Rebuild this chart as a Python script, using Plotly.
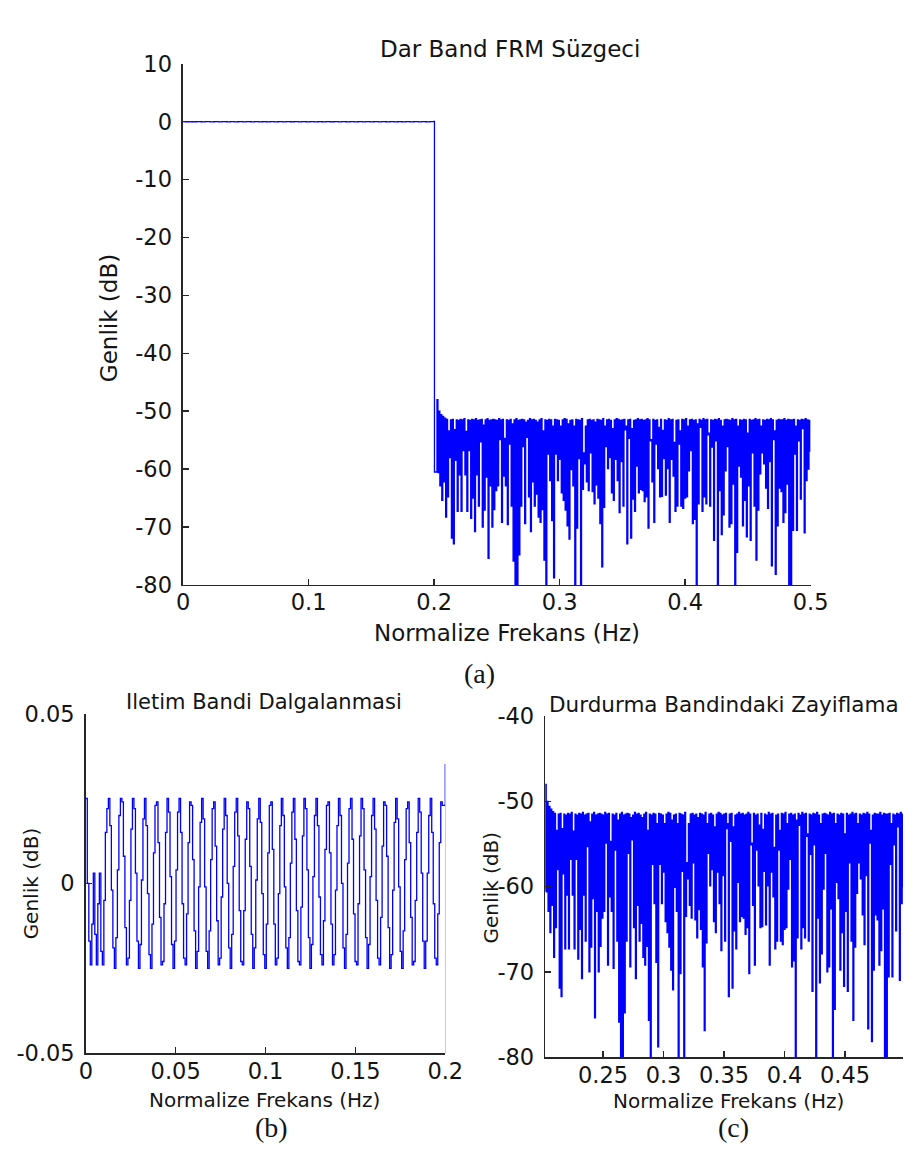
import numpy as np
import plotly.graph_objects as go

# ---------------- data ----------------
# Passband magnitude (dB), uniformly spaced from 0 to 0.2 normalized frequency
pass_db = [
    0.025, 0.000, -0.017, -0.024, -0.012, 0.003, -0.015, -0.024, -0.006, 0.003, -0.020,
    -0.024, -0.005, 0.015, 0.022, 0.025, 0.017, -0.002, -0.019, -0.025, -0.016, 0.004,
    0.020, 0.025, 0.024, 0.008, -0.013, -0.024, -0.022, -0.005, 0.016, 0.025, 0.022,
    0.003, -0.017, -0.025, -0.018, 0.001, 0.019, 0.025, 0.017, -0.003, -0.021, -0.025,
    -0.012, 0.009, 0.023, 0.024, 0.012, -0.010, -0.024, -0.023, -0.006, 0.015, 0.025,
    0.021, 0.002, -0.018, -0.025, -0.017, 0.004, 0.021, 0.025, 0.015, -0.006, -0.022,
    -0.024, -0.009, 0.012, 0.024, 0.023, 0.007, -0.014, -0.025, -0.020, -0.001, 0.018,
    0.025, 0.019, -0.001, -0.020, -0.025, -0.014, 0.007, 0.022, 0.024, 0.011, -0.011,
    -0.024, -0.022, -0.004, 0.016, 0.025, 0.020, 0.000, -0.019, -0.025, -0.015, 0.005,
    0.021, 0.025, 0.014, -0.008, -0.023, -0.024, -0.008, 0.013, 0.024, 0.022, 0.005,
    -0.015, -0.025, -0.019, 0.001, 0.019, 0.025, 0.018, -0.003, -0.021, -0.025, -0.012,
    0.009, 0.023, 0.024, 0.010, -0.012, -0.024, -0.022, -0.003, 0.017, 0.025, 0.020,
    -0.001, -0.019, -0.025, -0.016, 0.006, 0.021, 0.025, 0.013, -0.008, -0.023, -0.024,
    -0.007, 0.014, 0.025, 0.022, 0.004, -0.016, -0.025, -0.018, 0.002, 0.020, 0.025,
    0.017, -0.004, -0.021, -0.024, -0.011, 0.010, 0.023, 0.024, 0.009, -0.012, -0.024,
    -0.021, -0.002, 0.017, 0.025, 0.020, 0.000, -0.019, -0.025, -0.015, 0.006, 0.022,
    0.025, 0.013, -0.009, -0.023, -0.024, -0.006, 0.014, 0.025, 0.022, 0.004, -0.016,
    -0.025, -0.018, 0.002, 0.020, 0.025, 0.016, -0.005, -0.022, -0.024, -0.010, 0.011,
    0.024, 0.023, 0.008, -0.013, -0.025, -0.021, -0.002, 0.018, 0.025, 0.019, -0.001,
    -0.020, -0.025, -0.014, 0.007, 0.022, 0.024, 0.012, -0.010, -0.024, -0.023, -0.005,
    0.015, 0.025, 0.021, 0.003, -0.017, -0.025, -0.017, 0.003, 0.020, 0.025, 0.015,
    -0.006, -0.022, -0.024, -0.009, 0.012, 0.024, 0.023, 0.023, 0.035,
]
pass_f_start, pass_f_end = 0.0, 0.2

# Transition sample right after the band edge
trans_f = [0.2003]
trans_db = [-60.5]

# Stopband: upper (peak) and lower (trough) samples, alternating, from 0.2023 to 0.4995
stop_f_start, stop_f_end = 0.2023, 0.4995
stop_peaks = [
    -48.0, -50.0, -50.6, -50.9, -51.2, -51.4, -53.4, -51.5, -51.4, -53.2,
    -51.5, -51.6, -51.4, -51.5, -51.3, -53.5, -51.5, -51.6, -51.4, -51.5,
    -51.3, -51.6, -51.5, -51.4, -52.4, -51.5, -51.3, -51.6, -51.5, -51.4,
    -51.5, -51.6, -51.3, -51.5, -51.4, -54.7, -51.5, -51.6, -51.4, -52.2,
    -51.5, -51.3, -51.6, -51.5, -51.4, -51.5, -51.9, -51.6, -51.3, -51.5,
    -51.4, -51.6, -51.9, -51.5, -51.3, -53.4, -51.5, -51.6, -51.4, -51.5,
    -52.6, -51.4, -51.5, -51.6, -52.6, -51.5, -51.3, -51.4, -52.2, -51.6,
    -51.5, -52.6, -51.4, -51.5, -51.6, -51.3, -57.2, -52.6, -51.5, -51.4,
    -51.6, -51.5, -51.9, -51.4, -51.5, -51.6, -51.3, -52.6, -51.5, -51.4,
    -51.6, -53.0, -51.5, -51.3, -51.4, -51.6, -51.5, -51.4, -52.6, -51.5,
    -51.4, -53.0, -51.6, -51.5, -51.3, -51.5, -51.4, -51.6, -51.5, -51.3,
    -51.5, -54.9, -51.4, -51.6, -51.5, -52.8, -51.4, -53.3, -51.5, -51.6,
    -51.3, -51.5, -51.4, -55.4, -51.6, -51.5, -53.4, -51.4, -51.5, -51.3,
    -52.6, -51.5, -51.4, -51.6, -51.5, -52.2, -51.4, -51.6, -51.3, -51.5,
    -51.4, -53.8, -51.5, -51.6, -51.4, -51.5, -51.3, -51.6, -52.6, -51.5,
    -51.4, -51.5, -51.6, -51.3, -51.5, -51.4, -52.6, -51.5, -51.6, -51.4,
    -51.5, -53.8, -51.4, -51.6, -51.5, -51.3, -51.5, -51.4, -52.6, -51.5,
    -51.6, -51.4, -51.5, -51.3, -51.5, -53.4, -51.6, -51.4, -51.5, -51.5,
    -51.3, -51.6, -51.4, -51.5, -51.5, -51.4, -52.6, -51.5, -51.6, -51.4,
    -51.5, -51.3, -51.5, -51.6,
]
stop_troughs = [
    -60.6, -62.9, -65.4, -62.2, -68.3, -64.8, -58.0, -71.9, -72.9, -58.5,
    -67.3, -61.0, -67.3, -56.8, -61.0, -67.3, -56.8, -68.5, -65.0, -70.8,
    -61.0, -66.4, -55.3, -70.0, -67.1, -61.4, -75.4, -62.9, -70.0, -67.0,
    -63.7, -62.9, -54.9, -69.2, -61.2, -62.9, -69.6, -55.7, -66.4, -75.9,
    -85.0, -85.0, -74.8, -66.4, -56.1, -69.4, -54.5, -64.8, -70.8, -62.2,
    -66.4, -64.3, -68.3, -69.2, -67.0, -75.7, -85.0, -57.4, -62.0, -68.9,
    -78.8, -57.4, -62.0, -58.3, -64.1, -65.4, -67.1, -69.8, -72.1, -60.1,
    -62.9, -85.0, -70.2, -58.2, -85.0, -63.5, -59.1, -62.2, -63.7, -57.2,
    -63.9, -66.0, -62.7, -65.0, -69.4, -76.9, -66.6, -56.1, -59.9, -58.0,
    -64.1, -65.4, -58.3, -62.0, -67.5, -58.7, -66.4, -53.2, -72.9,
    -54.7, -71.9, -65.2, -67.3, -59.5, -64.1, -63.5, -63.7, -65.6, -64.8,
    -70.2, -55.1, -62.2, -69.2, -55.7, -59.9, -64.8, -64.7, -58.2, -64.5,
    -59.9, -69.2, -58.3, -61.2, -67.3, -66.4, -55.7, -66.4, -66.8, -65.0,
    -64.8, -60.3, -56.8, -69.4, -68.7, -85.0, -66.0, -52.8, -67.3, -64.8,
    -66.0, -54.1, -66.4, -56.2, -72.3, -55.1, -85.0, -63.7, -71.3, -67.9,
    -60.3, -56.1, -70.0, -69.4, -62.6, -85.0, -74.4, -59.5, -61.4, -69.8,
    -65.4, -71.7, -62.9, -72.3, -57.2, -66.4, -75.7, -67.1, -60.8, -57.2,
    -59.1, -63.3, -66.8, -58.7, -76.7, -54.9, -78.2, -69.8, -63.3, -63.9,
    -69.2, -67.5, -62.6, -85.0, -85.0, -70.6, -57.4, -70.6, -55.1, -65.2,
    -53.0, -71.0, -62.0, -60.0, -57.0,
]

# Tick values / labels (plain hyphen minus, as in the reference)
a_xticks = [0, 0.1, 0.2, 0.3, 0.4, 0.5]
a_xlabels = ["0", "0.1", "0.2", "0.3", "0.4", "0.5"]
a_yticks = [-80, -70, -60, -50, -40, -30, -20, -10, 0, 10]
a_ylabels = ["-80", "-70", "-60", "-50", "-40", "-30", "-20", "-10", "0", "10"]
b_xticks = [0, 0.05, 0.1, 0.15, 0.2]
b_xlabels = ["0", "0.05", "0.1", "0.15", "0.2"]
b_yticks = [-0.05, 0, 0.05]
b_ylabels = ["-0.05", "0", "0.05"]
c_xticks = [0.25, 0.3, 0.35, 0.4, 0.45]
c_xlabels = ["0.25", "0.3", "0.35", "0.4", "0.45"]
c_yticks = [-80, -70, -60, -50, -40]
c_ylabels = ["-80", "-70", "-60", "-50", "-40"]

# ---------------- build the full response ----------------
pass_f = np.linspace(pass_f_start, pass_f_end, len(pass_db))
stop_db = []
for p, t in zip(stop_peaks, stop_troughs):
    stop_db.extend([p, t])
stop_f = np.linspace(stop_f_start, stop_f_end, len(stop_db))

freq = np.concatenate([pass_f, trans_f, stop_f])
mag = np.concatenate([pass_db, trans_db, stop_db])

# ---------------- figure ----------------
W, H = 921, 1160
def fx(p):
    return p / W
def fy(p):
    return 1 - p / H

BLUE = "#0000ff"
AX = "#262626"
TXT = "#141414"
FONT = "DejaVu Sans"

fig = go.Figure()
for xa, ya in [("x", "y"), ("x2", "y2"), ("x3", "y3")]:
    fig.add_trace(go.Scatter(
        x=freq, y=mag, mode="lines", xaxis=xa, yaxis=ya,
        line=dict(color=BLUE, width=1.3, shape="hv"),
        hoverinfo="skip", showlegend=False,
    ))

def axis_style(**kw):
    d = dict(showline=True, linecolor=AX, linewidth=1.6, mirror=False,
             ticks="inside", ticklen=6, tickwidth=1.5, tickcolor=AX,
             showgrid=False, zeroline=False,
             tickfont=dict(family=FONT, size=22.5, color=TXT))
    d.update(kw)
    return d

XS = -3   # x tick label standoff
YS = 5    # y tick label standoff
fig.update_layout(
    width=W, height=H, autosize=False,
    margin=dict(l=0, r=0, t=0, b=0, pad=0),
    paper_bgcolor="white", plot_bgcolor="white",
    hovermode=False,
    xaxis=axis_style(domain=[fx(181), fx(826)], range=[0, 0.5], anchor="y",
                     tickvals=a_xticks, ticktext=a_xlabels, ticklabelstandoff=XS),
    yaxis=axis_style(domain=[fy(585), fy(52)], range=[-80, 10], anchor="x",
                     tickvals=a_yticks, ticktext=a_ylabels, ticklabelstandoff=YS),
    xaxis2=axis_style(domain=[fx(81), fx(450.5)], range=[0, 0.2], anchor="y2",
                      tickvals=b_xticks, ticktext=b_xlabels, ticklabelstandoff=XS),
    yaxis2=axis_style(domain=[fy(1064), fy(716.7)], range=[-0.05, 0.05], anchor="x2",
                      tickvals=b_yticks, ticktext=b_ylabels, ticklabelstandoff=YS),
    xaxis3=axis_style(domain=[fx(553.3), 1.0],
                      range=[0.2023, 0.2023 + (921 - 553.3) / 1244.0], anchor="y3",
                      tickvals=c_xticks, ticktext=c_xlabels, ticklabelstandoff=XS),
    yaxis3=axis_style(domain=[fy(1068), fy(719.3)], range=[-80, -40], anchor="x3",
                      tickvals=c_yticks, ticktext=c_ylabels, ticklabelstandoff=YS),
)

def ann(text, x, y, size, angle=0, family=FONT):
    fig.add_annotation(text=text, x=fx(x), y=fy(y), xref="paper", yref="paper",
                       xanchor="center", yanchor="middle", showarrow=False,
                       textangle=angle, font=dict(family=family, size=size, color=TXT))

# (a)
ann("Dar Band FRM Süzgeci", 517, 37, 23)
ann("Genlik (dB)", 105, 312, 23, angle=-90)
ann("Normalize Frekans (Hz)", 514, 634, 23)
ann("(a)", 486, 676, 28, family="Liberation Serif")
# (b)
ann("Iletim Bandi Dalgalanmasi", 264, 705, 21)
ann("Genlik (dB)", 25, 890, 20, angle=-90)
ann("Normalize Frekans (Hz)", 265, 1112, 20)
ann("(b)", 272, 1140, 28, family="Liberation Serif")
# (c)
ann("Durdurma Bandindaki Zayiflama", 737, 707, 21.5)
ann("Genlik (dB)", 497, 895, 20, angle=-90)
ann("Normalize Frekans (Hz)", 742, 1113, 20)
ann("(c)", 747, 1140, 28, family="Liberation Serif")

fig.write_html(
    "out.html",
    config={"displayModeBar": False, "staticPlot": True},
    post_script="document.documentElement.style.margin='0';"
                "document.body.style.margin='0';"
                "document.documentElement.style.overflow='hidden';"
                "document.body.style.overflow='hidden';",
)
